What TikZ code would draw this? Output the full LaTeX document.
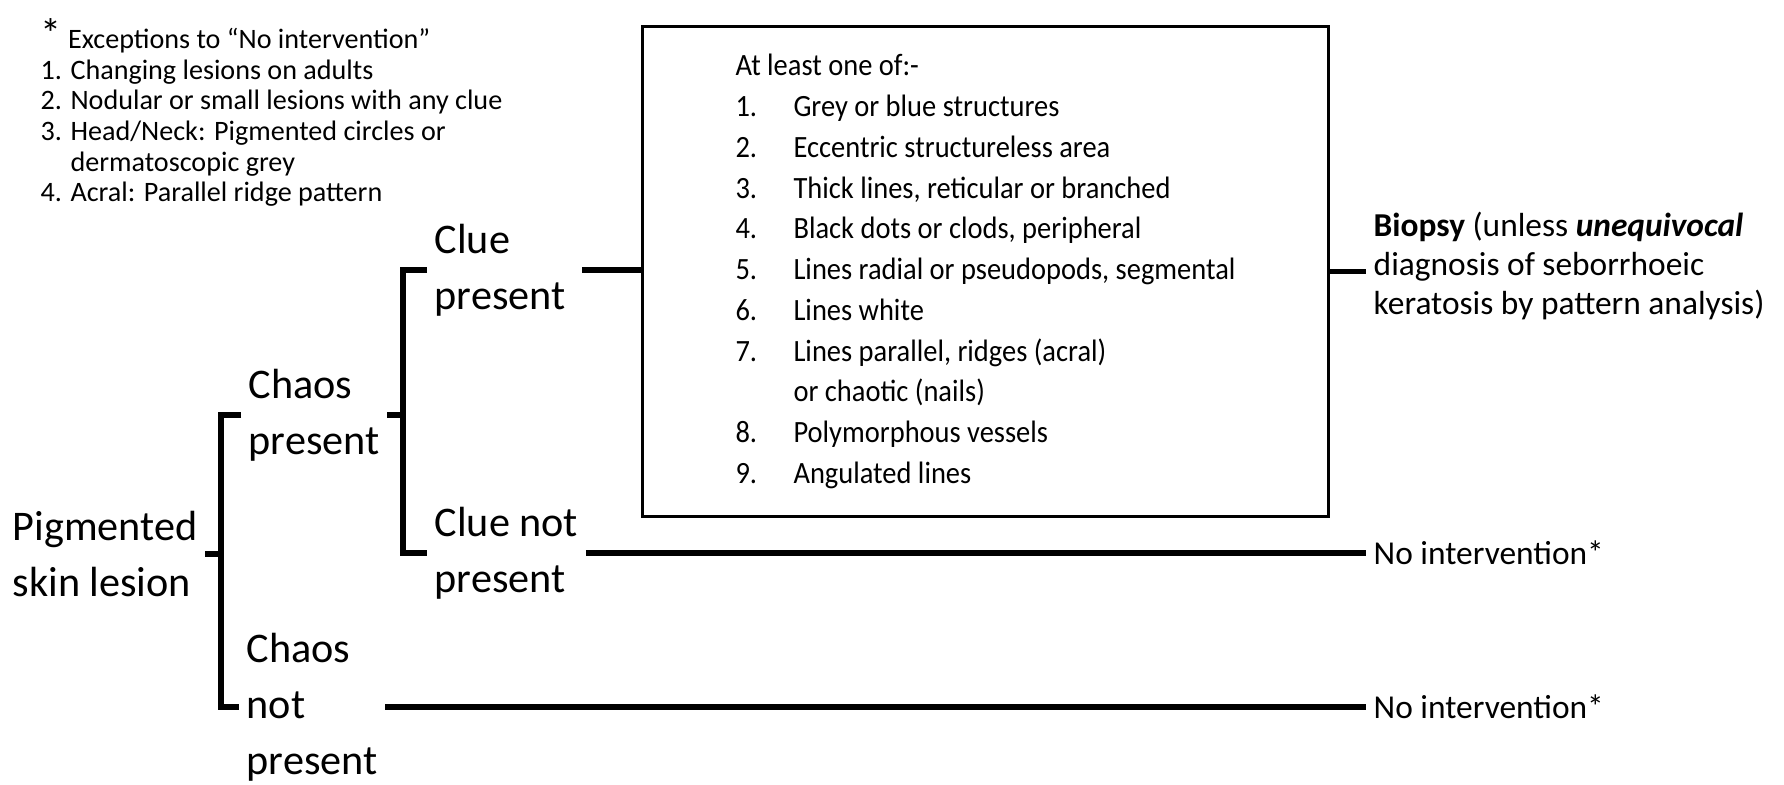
\documentclass[tikz,border=0pt]{standalone}
\usepackage{fontspec}
\setmainfont{Carlito}
\newfontfamily\boxfont[FakeStretch=0.92]{Carlito}

% numbered entry in the criteria box
\newcommand{\itm}[2]{\makebox[0.58cm][l]{#1}#2}

\begin{document}
\begin{tikzpicture}[x=0.01cm, y=-0.01cm,
    stage/.style={font=\fontsize{12}{16}\selectfont, align=left, anchor=west, inner xsep=2pt, inner ysep=1pt},
    outcome/.style={font=\fontsize{9.5}{11}\selectfont, align=left, anchor=west, inner xsep=2pt},
    branch/.style={line width=1.45pt}]

    \useasboundingbox (0,0) rectangle (1784,784);

    % Footnote: exceptions
    \node[font=\fontsize{8}{8.7}\selectfont, align=left, anchor=north west, inner sep=0pt] (notes) at (40,18)
        {{\large*} Exceptions to “No intervention”\\
         1. Changing lesions on adults\\
         2. Nodular or small lesions with any clue\\
         3. Head/Neck: Pigmented circles or\\
         \phantom{3. }dermatoscopic grey\\
         4. Acral: Parallel ridge pattern};

    % Decision stages
    \node[stage] (root) at (5,554) {Pigmented\\skin lesion};
    \node[stage] (chaosP) at (241,415) {Chaos\\present};
    \node[stage] (chaosN) at (239,707) {Chaos\\not\\present};
    \node[stage] (clueP) at (427,270) {Clue\\present};
    \node[stage] (clueN) at (427,553) {Clue not\\present};

    % Criteria box
    \node[draw, line width=0.9pt, minimum width=6.85cm, minimum height=4.89cm, align=left,
          font=\boxfont\fontsize{8.8}{11.6}\selectfont] (criteria) at (985.5,271.5)
        {At least one of:-\\
         \itm{1.}{Grey or blue structures}\\
         \itm{2.}{Eccentric structureless area}\\
         \itm{3.}{Thick lines, reticular or branched}\\
         \itm{4.}{Black dots or clods, peripheral}\\
         \itm{5.}{Lines radial or pseudopods, segmental}\\
         \itm{6.}{Lines white}\\
         \itm{7.}{Lines parallel, ridges (acral)}\\
         \itm{}{or chaotic (nails)}\\
         \itm{8.}{Polymorphous vessels}\\
         \itm{9.}{Angulated lines}};

    % Outcomes
    \node[outcome] (biopsy) at (1366,266)
        {\textbf{Biopsy} (unless \textbf{\textit{unequivocal}}\\
         diagnosis of seborrhoeic\\
         keratosis by pattern analysis)};
    \node[outcome] (noint1) at (1366,553) {No intervention*};
    \node[outcome] (noint2) at (1366,707) {No intervention*};

    % Bracket spines
    \coordinate (fork1) at (221,0);
    \coordinate (fork2) at (403,0);

    % Connectors
    \draw[branch] (root.east) -- (root.east -| fork1);
    \draw[branch] (chaosP.west) -- (chaosP.west -| fork1) -- (chaosN.west -| fork1) -- (chaosN.west);
    \draw[branch] (chaosP.east) -- (chaosP.east -| fork2);
    \draw[branch] (clueP.west) -- (clueP.west -| fork2) -- (clueN.west -| fork2) -- (clueN.west);
    \draw[branch, shorten <=2.5pt] (clueP.east) -- (clueP.east -| criteria.west);
    \draw[branch] (criteria.east) -- (criteria.east -| biopsy.west);
    \draw[branch] (clueN.east) -- (clueN.east -| noint1.west);
    \draw[branch] (chaosN.east) -- (noint2.west);

\end{tikzpicture}
\end{document}
